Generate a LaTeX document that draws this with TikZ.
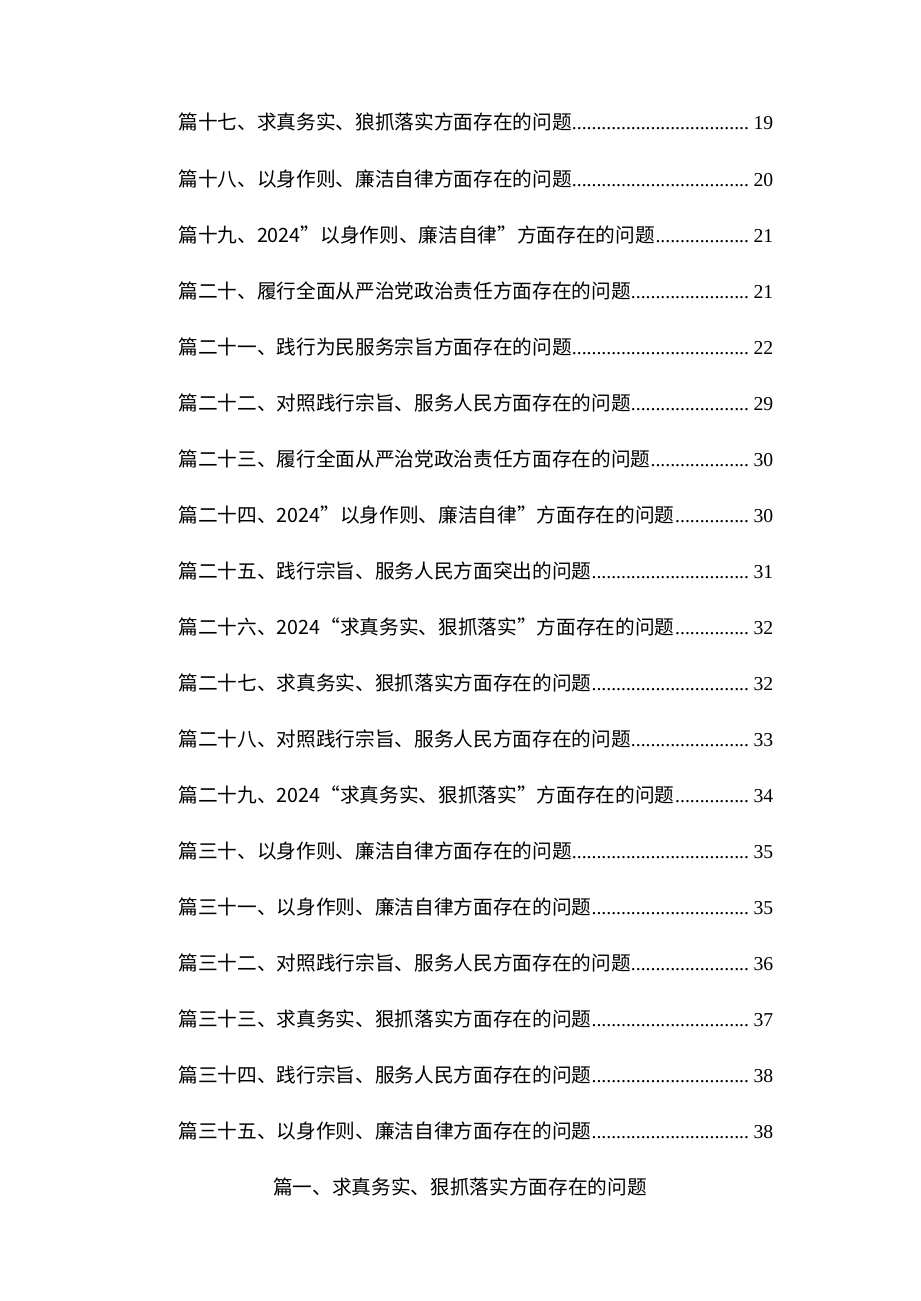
\documentclass[tikz,border=0pt]{standalone}
\usepackage{fontspec}
\setmainfont{Liberation Serif}
\newfontfamily\cjk{Noto Sans CJK SC}
\newcommand{\tocline}[2]{\hbox to 11.9cm{\cjk #1\leaders\hbox{\rmfamily.}\hfill\rmfamily #2}}
\tikzset{entry/.style={anchor=base west,inner sep=0pt,font=\fontsize{11.2pt}{13pt}\selectfont}}
\begin{document}
\begin{tikzpicture}[x=0.02cm,y=-0.02cm]
\useasboundingbox[fill=white] (0,0) rectangle (920,1301);
\node[entry] (e17) at (178,130) {\tocline{篇十七、求真务实、狼抓落实方面存在的问题}{19}};
\node[entry] (e18) at (178,186) {\tocline{篇十八、以身作则、廉洁自律方面存在的问题}{20}};
\node[entry] (e19) at (178,242) {\tocline{篇十九、2024”以身作则、廉洁自律”方面存在的问题}{21}};
\node[entry] (e20) at (178,298) {\tocline{篇二十、履行全面从严治党政治责任方面存在的问题}{21}};
\node[entry] (e21) at (178,354) {\tocline{篇二十一、践行为民服务宗旨方面存在的问题}{22}};
\node[entry] (e22) at (178,410) {\tocline{篇二十二、对照践行宗旨、服务人民方面存在的问题}{29}};
\node[entry] (e23) at (178,466) {\tocline{篇二十三、履行全面从严治党政治责任方面存在的问题}{30}};
\node[entry] (e24) at (178,522) {\tocline{篇二十四、2024”以身作则、廉洁自律”方面存在的问题}{30}};
\node[entry] (e25) at (178,578) {\tocline{篇二十五、践行宗旨、服务人民方面突出的问题}{31}};
\node[entry] (e26) at (178,634) {\tocline{篇二十六、2024“求真务实、狠抓落实”方面存在的问题}{32}};
\node[entry] (e27) at (178,690) {\tocline{篇二十七、求真务实、狠抓落实方面存在的问题}{32}};
\node[entry] (e28) at (178,746) {\tocline{篇二十八、对照践行宗旨、服务人民方面存在的问题}{33}};
\node[entry] (e29) at (178,802) {\tocline{篇二十九、2024“求真务实、狠抓落实”方面存在的问题}{34}};
\node[entry] (e30) at (178,858) {\tocline{篇三十、以身作则、廉洁自律方面存在的问题}{35}};
\node[entry] (e31) at (178,914) {\tocline{篇三十一、以身作则、廉洁自律方面存在的问题}{35}};
\node[entry] (e32) at (178,970) {\tocline{篇三十二、对照践行宗旨、服务人民方面存在的问题}{36}};
\node[entry] (e33) at (178,1026) {\tocline{篇三十三、求真务实、狠抓落实方面存在的问题}{37}};
\node[entry] (e34) at (178,1082) {\tocline{篇三十四、践行宗旨、服务人民方面存在的问题}{38}};
\node[entry] (e35) at (178,1138) {\tocline{篇三十五、以身作则、廉洁自律方面存在的问题}{38}};
\node[entry,anchor=base] (head) at (460,1194) {\cjk 篇一、求真务实、狠抓落实方面存在的问题};
\end{tikzpicture}
\end{document}
